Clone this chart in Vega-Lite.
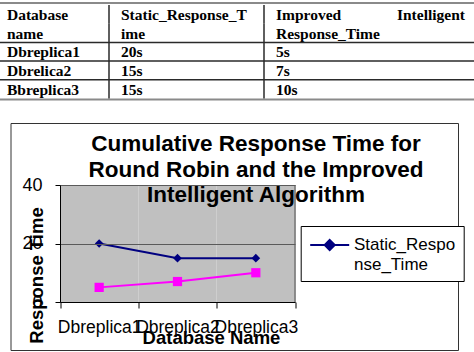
{
  "$schema": "https://vega.github.io/schema/vega-lite/v6.json",
  "width": 447.5,
  "height": 227,
  "autosize": {"type": "none"},
  "padding": {"left": 10.5, "top": 123, "right": 16, "bottom": 2},
  "background": "white",
  "config": {
    "view": {"stroke": "#333333", "strokeWidth": 1},
    "font": "Liberation Sans"
  },
  "title": {
    "text": ["Cumulative Response Time for", "Round Robin and the Improved", "Intelligent Algorithm"],
    "anchor": "middle",
    "frame": "group",
    "font": "Liberation Sans",
    "fontSize": 22.5,
    "fontWeight": "bold",
    "color": "#000000",
    "lineHeight": 25.5,
    "baseline": "alphabetic",
    "offset": -28.7,
    "dx": 21.75,
    "dy": 194
  },
  "datasets": {
    "cells": [
      {"col": 0, "line": "h1", "text": "Database"},
      {"col": 0, "line": "h2", "text": "name"},
      {"col": 1, "line": "h1", "text": "Static_Response_T"},
      {"col": 1, "line": "h2", "text": "ime"},
      {"col": 2, "line": "h1", "text": "Improved"},
      {"col": 2, "line": "h2", "text": "Response_Time"},
      {"col": 0, "line": "r1", "text": "Dbreplica1"},
      {"col": 1, "line": "r1", "text": "20s"},
      {"col": 2, "line": "r1", "text": "5s"},
      {"col": 0, "line": "r2", "text": "Dbrelica2"},
      {"col": 1, "line": "r2", "text": "15s"},
      {"col": 2, "line": "r2", "text": "7s"},
      {"col": 0, "line": "r3", "text": "Bbreplica3"},
      {"col": 1, "line": "r3", "text": "15s"},
      {"col": 2, "line": "r3", "text": "10s"}
    ],
    "cellsRight": [
      {"col": 3, "line": "h1", "text": "Intelligent"}
    ],
    "innerLines": [{"line": "r1"}, {"line": "r2"}, {"line": "r3"}],
    "topLine": [{"line": "h1"}],
    "bottomLine": [{"line": "end"}],
    "chart": [
      {"db": "Dbreplica1", "series": "Static_Response_Time", "value": 20},
      {"db": "Dbreplica2", "series": "Static_Response_Time", "value": 15},
      {"db": "Dbreplica3", "series": "Static_Response_Time", "value": 15},
      {"db": "Dbreplica1", "series": "Improved_Intelligent_Response_Time", "value": 5},
      {"db": "Dbreplica2", "series": "Improved_Intelligent_Response_Time", "value": 7},
      {"db": "Dbreplica3", "series": "Improved_Intelligent_Response_Time", "value": 10}
    ]
  },
  "layer": [
    {
      "layer": [
        {
          "data": {"name": "cells"},
          "mark": {"type": "text", "align": "left", "baseline": "middle", "dx": 12, "dy": 0.5, "font": "Liberation Serif", "fontWeight": "bold", "fontSize": 15.5, "color": "#000000"},
          "encoding": {
            "x": {"field": "col", "type": "quantitative", "scale": {"domain": [0, 1, 2, 3], "range": [-15.5, 98.5, 253.5, 463.5], "nice": false, "zero": false}, "axis": null},
            "y": {"field": "line", "type": "nominal", "scale": {"type": "band", "domain": ["h1", "h2", "r1", "r2", "r3", "end"], "range": [-118, -5.8], "paddingInner": 0, "paddingOuter": 0}, "axis": null},
            "text": {"field": "text"}
          }
        },
        {
          "data": {"name": "cellsRight"},
          "mark": {"type": "text", "align": "right", "baseline": "middle", "dx": -9, "dy": 0.5, "font": "Liberation Serif", "fontWeight": "bold", "fontSize": 15.5, "color": "#000000"},
          "encoding": {
            "x": {"field": "col", "type": "quantitative"},
            "y": {"field": "line", "type": "nominal"},
            "text": {"field": "text"}
          }
        },
        {
          "data": {"name": "innerLines"},
          "mark": {"type": "rule", "color": "#2a2a2a", "strokeWidth": 1.5},
          "encoding": {
            "y": {"field": "line", "type": "nominal", "bandPosition": 0},
            "x": {"datum": 0, "type": "quantitative"},
            "x2": {"datum": 3}
          }
        },
        {
          "data": {"name": "topLine"},
          "mark": {"type": "rule", "color": "#8a8a8a", "strokeWidth": 2.2, "yOffset": -2},
          "encoding": {
            "y": {"field": "line", "type": "nominal", "bandPosition": 0},
            "x": {"datum": 0, "type": "quantitative"},
            "x2": {"datum": 3}
          }
        },
        {
          "data": {"name": "bottomLine"},
          "mark": {"type": "rule", "color": "#8a8a8a", "strokeWidth": 2.2, "yOffset": 1},
          "encoding": {
            "y": {"field": "line", "type": "nominal", "bandPosition": 0},
            "x": {"datum": 0, "type": "quantitative"},
            "x2": {"datum": 3}
          }
        },
        {
          "data": {"name": "cells"},
          "transform": [{"filter": "datum.col > 0"}],
          "mark": {"type": "tick", "orient": "vertical", "color": "#2a2a2a", "thickness": 1.5, "size": 18.8, "opacity": 1},
          "encoding": {
            "x": {"field": "col", "type": "quantitative"},
            "y": {"field": "line", "type": "nominal"}
          }
        }
      ]
    },
    {
      "data": {"name": "chart"},
      "layer": [
        {
          "transform": [{"filter": "datum.series === 'Static_Response_Time'"}],
          "mark": {"type": "bar", "color": "#c0c0c0", "width": {"band": 1}},
          "encoding": {
            "x": {
              "field": "db", "type": "nominal",
              "scale": {"type": "band", "range": [49.5, 284.5], "paddingInner": 0, "paddingOuter": 0},
              "axis": {
                "orient": "bottom", "offset": -48, "title": "Database Name", "labelAngle": 0,
                "tickBand": "extent", "tickSize": 6, "tickColor": "#000000", "domainColor": "#000000",
                "labelPadding": 10, "labelFont": "Liberation Sans", "labelFontSize": 17.5, "labelColor": "#000000",
                "labelOverlap": false, "labelLimit": 0,
                "titleFont": "Liberation Sans", "titleFontSize": 18.5, "titleFontWeight": "bold", "titleColor": "#000000",
                "titleX": 200.5, "titleY": 35, "titleBaseline": "middle", "titleAlign": "center",
                "zindex": 1
              }
            },
            "y": {
              "datum": 40, "type": "quantitative",
              "scale": {"domain": [0, 40], "range": [179, 62], "nice": false, "zero": true},
              "axis": {
                "orient": "left", "offset": -49.5, "values": [0, 20, 40], "title": "Response Time",
                "tickSize": 5, "tickColor": "#000000", "domainColor": "#000000",
                "labelPadding": 13, "labelFont": "Liberation Sans", "labelFontSize": 18, "labelColor": "#000000",
                "labelOverlap": false, "labelFlush": false,
                "grid": true, "gridColor": "#5a5a5a", "gridOpacity": 1,
                "titleFont": "Liberation Sans", "titleFontSize": 18.5, "titleFontWeight": "bold", "titleColor": "#000000",
                "titleAngle": -90, "titleX": -24, "titleY": 152, "titleBaseline": "middle", "titleAlign": "center",
                "zindex": 1
              }
            }
          }
        },
        {
          "transform": [{"filter": "datum.series === 'Static_Response_Time'"}],
          "mark": {"type": "rule", "color": "#808080", "strokeWidth": 1},
          "encoding": {
            "x": {"datum": "Dbreplica3", "type": "nominal", "bandPosition": 1},
            "y": {"datum": 0, "type": "quantitative"},
            "y2": {"datum": 40}
          }
        },
        {
          "transform": [{"filter": "datum.series === 'Improved_Intelligent_Response_Time'"}],
          "mark": {"type": "line", "color": "#ff00ff", "strokeWidth": 2, "point": {"shape": "square", "size": 85, "filled": true, "color": "#ff00ff"}},
          "encoding": {
            "x": {"field": "db", "type": "nominal"},
            "y": {"field": "value", "type": "quantitative"}
          }
        },
        {
          "transform": [{"filter": "datum.series === 'Static_Response_Time'"}],
          "mark": {"type": "line", "strokeWidth": 2, "point": {"shape": "diamond", "size": 75, "filled": true}},
          "encoding": {
            "x": {"field": "db", "type": "nominal"},
            "y": {"field": "value", "type": "quantitative"},
            "color": {
              "field": "series", "type": "nominal",
              "scale": {"domain": ["Static_Response_Time"], "range": ["#000080"]},
              "legend": {
                "orient": "none", "legendX": 290.2, "legendY": 103, "title": null,
                "strokeColor": "#000000", "fillColor": "#ffffff", "padding": 8,
                "symbolType": "M-1.95,0L1.95,0M0,-0.5L0.5,0L0,0.5L-0.5,0Z",
                "symbolSize": 400, "symbolStrokeWidth": 2, "symbolOffset": 10,
                "labelFont": "Liberation Sans", "labelFontSize": 17, "labelColor": "#000000",
                "labelOffset": 13.3, "labelLimit": 300, "labelBaseline": "middle",
                "labelExpr": "['Static_Respo', 'nse_Time']",
                "encode": {
                  "symbols": {"update": {"fill": {"value": "#000080"}, "stroke": {"value": "#000080"}, "opacity": {"value": 1}}},
                  "labels": {"update": {"lineHeight": {"value": 20}}}
                }
              }
            }
          }
        }
      ]
    }
  ],
  "resolve": {
    "scale": {"x": "independent", "y": "independent"},
    "axis": {"x": "independent", "y": "independent"}
  }
}
